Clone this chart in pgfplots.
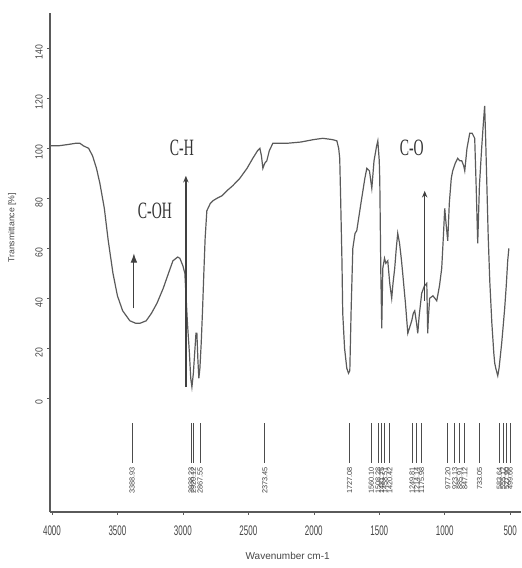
\documentclass[border=0pt]{standalone}
\usepackage{fontspec}
\setmainfont{Liberation Sans}
\newfontfamily\annfont{Liberation Serif}
\usepackage{graphicx}
\usepackage{pgfplots}
\pgfplotsset{compat=1.18}
\usetikzlibrary{arrows.meta}
\definecolor{specline}{RGB}{90,90,90}
\definecolor{txtgrey}{RGB}{70,70,70}
\definecolor{axgrey}{RGB}{90,90,90}
\tikzset{
  peakline/.style={black!70, line width=0.6pt},
  peaklab/.style={rotate=90, anchor=east, inner sep=0pt, text=black!75,
                  font=\fontsize{5.5}{6}\selectfont},
}

\pgfplotstableread{
w T
4015 101
3950 101
3880 101.5
3820 102
3786 102
3760 101
3720 100
3690 97
3660 92
3634 86
3600 76
3570 63
3534 50
3500 41
3460 35
3405 31
3360 30
3328 30
3280 31
3240 34
3198 38
3150 44
3110 50
3076 55
3040 56.5
3023 56
3000 53
2985 50
2975 40
2965 30
2950 18
2940 8
2931 4.5
2920 10
2910 18
2900 26
2893 26
2885 15
2878 8
2870 12
2860 22
2850 35
2840 50
2830 64
2817 75
2790 78
2771 79
2740 80
2702 81
2664 83
2620 85
2565 88
2510 92
2466 96
2430 99
2412 100
2400 97
2389 92
2375 94
2359 95
2340 99
2313 102
2250 102
2206 102
2100 102.5
2000 103.5
1931 104
1860 103.5
1824 103
1810 100
1802 96
1795 80
1785 55
1779 34
1765 20
1748 12
1735 10
1725 11
1715 35
1702 60
1685 66
1672 67
1640 78
1610 88
1595 92
1575 91
1557 84
1540 95
1520 101
1511 103
1500 95
1496 87
1488 50
1481 28
1473 52
1460 56
1450 54
1435 55
1420 46
1405 40
1395 46
1382 52
1370 60
1359 66
1345 62
1330 55
1321 50
1300 38
1282 26
1270 28
1252 31
1240 34
1229 35
1215 30
1206 26
1195 33
1176 42
1155 45
1137 46
1130 26
1125 32
1115 40
1090 41
1061 39
1040 45
1023 52
1010 65
1000 76
990 70
977 63
965 78
950 88
939 91
920 94
901 96
885 95
870 95
855 93
847 91
830 100
809 106
790 106
771 104
760 85
748 62
735 85
718 100
705 110
695 117
688 105
679 87
668 65
656 47
640 30
625 18
618 14
610 12
595 9
585 12
575 17
565 22
555 28
542 36
530 45
519 55
510 60
}\spectrum

\begin{document}
\begin{tikzpicture}
\begin{axis}[
    scale only axis, width=353pt, height=374pt,
    x dir=reverse, xmin=420, xmax=4015,
    ymin=-45.5, ymax=154,
    axis x line=bottom, axis y line=left,
    axis line style={axgrey, line width=0.8pt, -},
    tick align=outside, tick style={axgrey, thin},
    major tick length=2pt,
    xtick={4000,3500,3000,2500,2000,1500,1000,500},
    ytick={0,20,...,140},
    /pgf/number format/assume math mode=true,
    /pgf/number format/set thousands separator={},
    xticklabel={\scalebox{0.75}[1.3]{\pgfmathprintnumber{\tick}}},
    xticklabel style={font=\fontsize{8}{9}\selectfont, text=txtgrey, yshift=-5pt},
    yticklabel={\scalebox{1}[1.2]{\pgfmathprintnumber{\tick}}},
    yticklabel style={rotate=90, anchor=south, font=\fontsize{6.5}{7}\selectfont, text=txtgrey, xshift=-3pt},
    xlabel={Wavenumber cm-1},
    xlabel style={at={(axis description cs:0.505,0)}, anchor=north, yshift=-27pt,
                  font=\fontsize{7.5}{8}\selectfont, text=txtgrey},
    ylabel={Transmittance [\%]},
    ylabel style={at={(axis description cs:-0.062,0.57)}, anchor=south, rotate=0,
                  font=\fontsize{6.5}{7}\selectfont, text=txtgrey},
    clip=false,
]
\addplot[specline, line width=0.9pt, no markers] table[x=w, y=T] {\spectrum};

% annotation arrows
\draw[-{Latex[length=7pt,width=5pt]}, line width=0.8pt, black!75]
  (axis cs:3374,36) -- (axis cs:3374,58);
\draw[-{Stealth[length=5pt,width=4pt]}, line width=1pt, black!75]
  (axis cs:2977,4.5) -- (axis cs:2977,89);
\draw[-{Stealth[length=5pt,width=4pt]}, line width=1pt, black!75]
  (axis cs:1153,39) -- (axis cs:1153,83);

\node[text=black!80, font=\annfont\fontsize{13}{13}\selectfont]
  at (axis cs:3214,75) {\scalebox{0.8}[1.35]{C-OH}};
\node[text=black!80, font=\annfont\fontsize{13}{13}\selectfont]
  at (axis cs:3008,100) {\scalebox{0.8}[1.35]{C-H}};
\node[text=black!80, font=\annfont\fontsize{13}{13}\selectfont]
  at (axis cs:1252,100) {\scalebox{0.8}[1.35]{C-O}};

% peak picking marks
\foreach \p/\lab in {3388/3388.93, 2938/2938.23, 2920/2920.12, 2868/2867.55,
                     2374/2373.45, 1727/1727.08, 1560/1560.10, 1508/1508.28,
                     1482/1481.75, 1458/1458.51, 1420/1420.42, 1250/1249.81,
                     1214/1214.14, 1176/1175.98, 977/977.20, 923/923.13,
                     885/885.91, 847/847.12, 733/733.05, 583/583.64,
                     555/555.12, 527/527.90, 500/499.66} {
  \edef\tmp{\noexpand\draw[peakline] (axis cs:\p,-10) -- (axis cs:\p,-26);
    \noexpand\node[peaklab] at (axis cs:\p,-27.5) {\lab};}
  \tmp
}
\end{axis}
\path[use as bounding box] (-37.5pt,-42pt) rectangle (353pt,384pt);
\end{tikzpicture}
\end{document}
